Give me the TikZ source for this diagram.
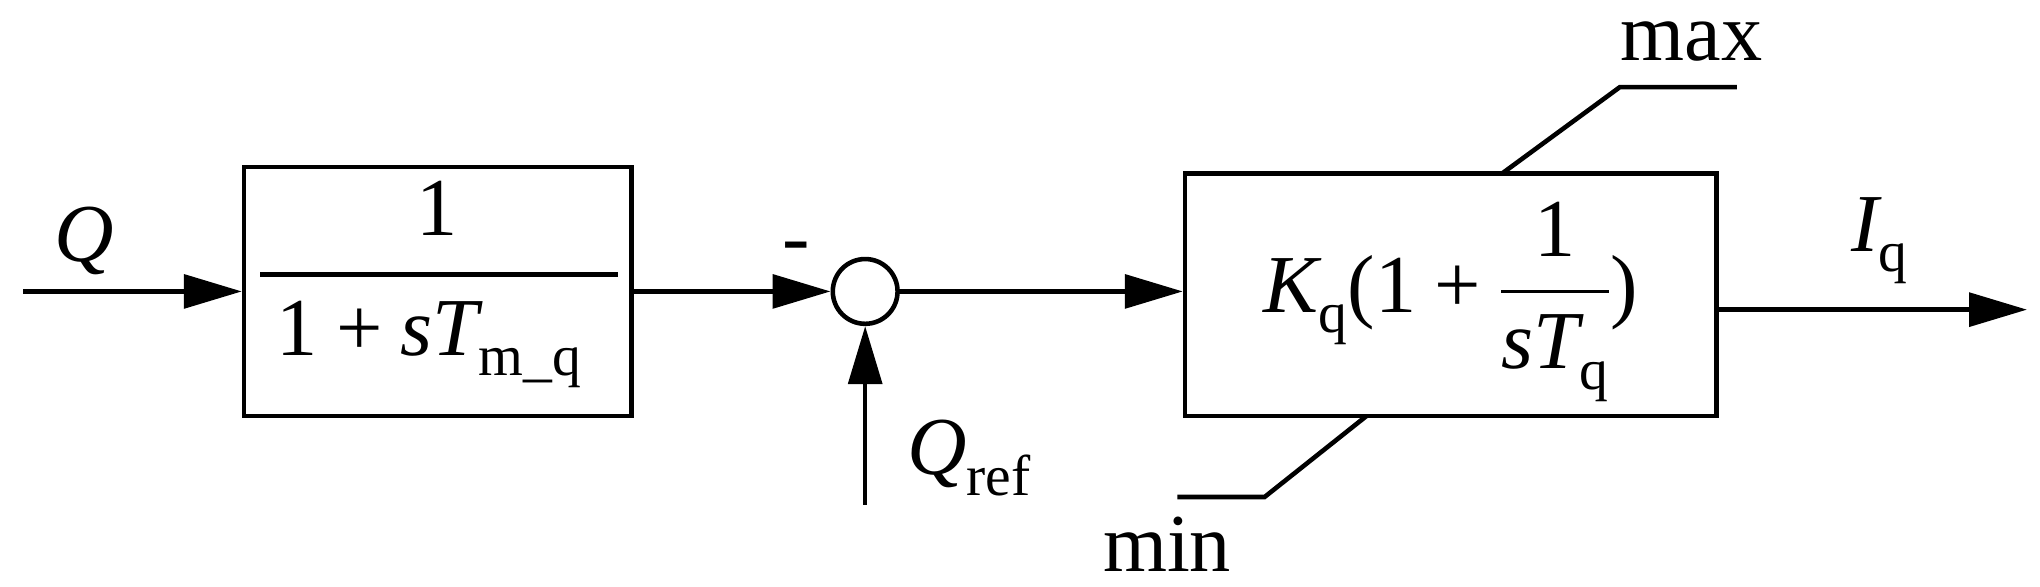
\documentclass[tikz,border=0pt]{standalone}
\usepackage{fontspec}
\setmainfont{Liberation Serif}
\usepackage{unicode-math}
\setmathfont{Latin Modern Math}
\setmathfont[range=it]{Liberation Serif Italic}
\setmathfont[range=up]{Liberation Serif}
\setmathfont[range={"0030-"0039,"002B,"0028,"0029}]{Liberation Serif}
\usetikzlibrary{arrows.meta}
\begin{document}
\begin{tikzpicture}[x=0.03cm,y=-0.03cm,line width=3pt,
  arr/.style={-{Triangle[length=38pt,width=22pt]}},
  txt/.style={inner sep=0pt,font=\fontsize{54}{60}\selectfont},
  blk/.style={draw,inner sep=0pt}]
\useasboundingbox (0,0) rectangle (1568,451);
\node[blk,minimum width=299*0.85pt,minimum height=192*0.85pt] (b1) at (336.5,224) {};
\draw (200,211) -- (475,211);
\node[txt] (n1) at (336,160) {1};
\node[txt] (d1) at (330,265) {$1+sT_{\mathrm{m\_q}}$};
\node[draw,circle,minimum size=50*0.85pt,inner sep=0pt] (c) at (665,224) {};
\node[txt] (mi) at (612,195) {-};
\node[blk,minimum width=410*0.85pt,minimum height=187*0.85pt] (b2) at (1115,226.5) {};
\node[txt] (k) at (1115,232) {$K_{\mathrm{q}}(1+\dfrac{1}{sT_{\mathrm{q}}})$};
\coordinate (qs) at (18,224);
\coordinate (rs) at (665,388);
\coordinate (out) at (1558,238);
\coordinate (ob) at (1320,238);
\draw[arr] (qs) -- (b1.west);
\node[txt] (Q) at (65,185) {$Q$};
\draw[arr] (b1.east) -- (c.west);
\draw[arr] (rs) -- (c.south);
\node[txt] (Qr) at (745,352) {$Q_{\mathrm{ref}}$};
\draw[arr] (c.east) -- (c.east -| b2.west);
\draw[arr] (ob) -- (out);
\node[txt] (Iq) at (1445,185) {$I_{\mathrm{q}}$};
\coordinate (m1) at (1155,133); \coordinate (m2) at (1245,67); \coordinate (m3) at (1335,67);
\draw (m1) -- (m2) -- (m3);
\node[txt] (mx) at (1300,32) {max};
\coordinate (n1a) at (1050,320); \coordinate (n2a) at (972,382); \coordinate (n3a) at (905,382);
\draw (n1a) -- (n2a) -- (n3a);
\node[txt] (mn) at (897,418) {min};
\end{tikzpicture}
\end{document}
